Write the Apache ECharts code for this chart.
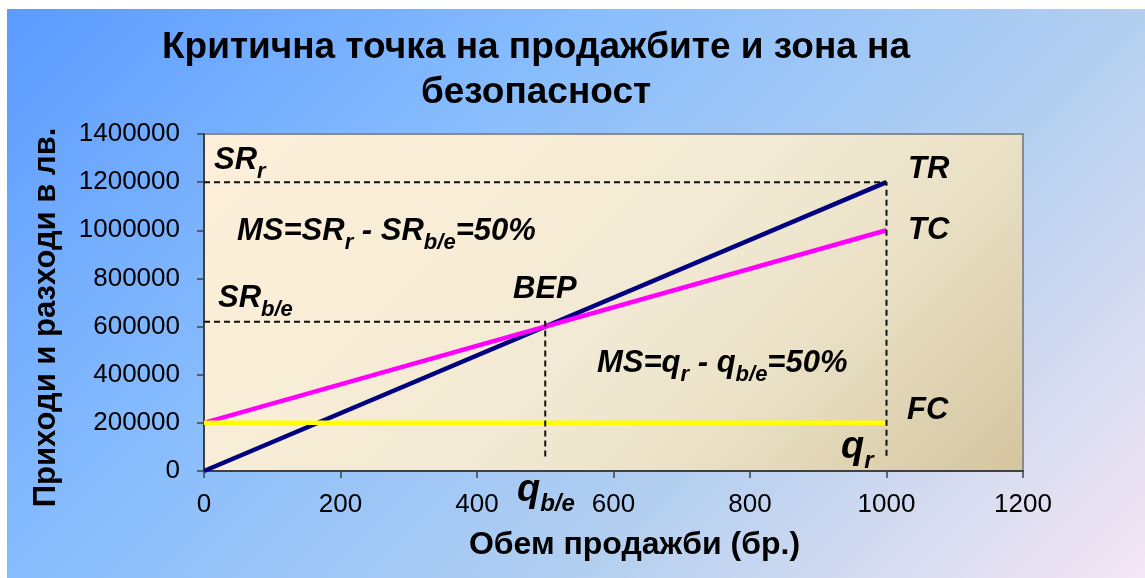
<!DOCTYPE html>
<html>
<head>
<meta charset="utf-8">
<script src="https://cdn.jsdelivr.net/npm/echarts@6/dist/echarts.min.js"></script>
<style>
  html, body { margin: 0; padding: 0; background: #ffffff; }
  #chart { width: 1145px; height: 578px; }
</style>
</head>
<body>
<div id="chart"></div>
<script>
// Break-even chart: revenue, total cost and fixed cost against sales volume
const quantity     = [0, 1000];             // units sold
const revenueTR    = [0, 1200000];          // total revenue
const totalCostTC  = [200000, 1000000];     // total cost
const fixedCostFC  = [200000, 200000];      // fixed cost

// guide lines: actual sales (q_r, SR_r) and break-even (q_b/e, SR_b/e)
const guideActualX    = [0, 1000, 1000];
const guideActualY    = [1200000, 1200000, 60000];
const guideBreakEvenX = [0, 500, 500];
const guideBreakEvenY = [620000, 620000, 60000];

const xTickValues = [0, 200, 400, 600, 800, 1000, 1200];
const yTickValues = [0, 200000, 400000, 600000, 800000, 1000000, 1200000, 1400000];

const titleText = 'Критична точка на продажбите и зона на\nбезопасност';
const xAxisTitle = 'Обем продажби (бр.)';
const yAxisTitle = 'Приходи и разходи в лв.';

const FONT = '"Liberation Sans", Arial, Helvetica, sans-serif';

const zip = (xs, ys) => xs.map((x, i) => [x, ys[i]]);
const plainNumber = v => String(v);

const chart = echarts.init(document.getElementById('chart'), null, { renderer: 'canvas' });

// rich-text styles for italic labels with subscripts
const baseTok = { fontFamily: FONT, fontWeight: 'bold', fontStyle: 'italic', fill: '#000', color: '#000' };
const richStyles = {
  m: Object.assign({}, baseTok, { fontSize: 31, lineHeight: 34, verticalAlign: 'bottom', padding: [0, 0, 7, 0] }),
  s: Object.assign({}, baseTok, { fontSize: 22, lineHeight: 23, verticalAlign: 'bottom' }),
  q: Object.assign({}, baseTok, { fontSize: 38, lineHeight: 40, verticalAlign: 'bottom', padding: [0, 0, 6, 0] }),
  qs: Object.assign({}, baseTok, { fontSize: 24, lineHeight: 26, verticalAlign: 'bottom' })
};

function note(x, baseline, text, baseOffset) {
  return {
    type: 'text',
    x: x,
    y: baseline + (baseOffset || 13),
    z: 100,
    silent: true,
    style: {
      text: text,
      rich: richStyles,
      align: 'left',
      verticalAlign: 'bottom',
      fill: '#000'
    }
  };
}

const axisCommon = {
  type: 'value',
  nameLocation: 'middle',
  axisLine: { show: true, onZero: false, lineStyle: { color: '#404040', width: 2 } },
  axisTick: { show: true, length: 7, lineStyle: { color: '#404040', width: 1.5 } },
  splitLine: { show: false }
};

const option = {
  animation: false,
  backgroundColor: {
    type: 'linear', x: 0, y: 0, x2: 861, y2: 861, global: true,
    colorStops: [
      { offset: 0,    color: '#5a9aff' },
      { offset: 0.35, color: '#88bdfd' },
      { offset: 0.67, color: '#b3cff0' },
      { offset: 0.85, color: '#d8dcf0' },
      { offset: 1,    color: '#f4e6f5' }
    ]
  },
  title: {
    text: titleText,
    left: 536,
    top: 25,
    textAlign: 'center',
    padding: 0,
    textStyle: {
      fontFamily: FONT, fontSize: 37, fontWeight: 'bold', color: '#000', lineHeight: 45
    }
  },
  grid: {
    left: 204, top: 134, right: 122, bottom: 107,
    show: true,
    borderColor: '#8a8a8a',
    borderWidth: 2,
    backgroundColor: {
      type: 'linear', x: 204, y: 134, x2: 782, y2: 712, global: true,
      colorStops: [
        { offset: 0,   color: '#fdefd9' },
        { offset: 0.3, color: '#f8edd6' },
        { offset: 0.5, color: '#f2ead5' },
        { offset: 0.7, color: '#eae1c6' },
        { offset: 1,   color: '#d4c59f' }
      ]
    }
  },
  xAxis: Object.assign({}, axisCommon, {
    min: xTickValues[0],
    max: xTickValues[xTickValues.length - 1],
    interval: xTickValues[1] - xTickValues[0],
    name: xAxisTitle,
    nameGap: 58,
    nameTextStyle: { fontFamily: FONT, fontSize: 32, fontWeight: 'bold', color: '#000', padding: [0, 0, 0, 42] },
    axisLabel: { fontFamily: FONT, fontSize: 26, color: '#000', margin: 21, formatter: plainNumber }
  }),
  yAxis: Object.assign({}, axisCommon, {
    min: yTickValues[0],
    max: yTickValues[yTickValues.length - 1],
    interval: yTickValues[1] - yTickValues[0],
    name: yAxisTitle,
    nameGap: 142,
    nameTextStyle: { fontFamily: FONT, fontSize: 31, fontWeight: 'bold', color: '#000', padding: [0, 30, 0, 0] },
    axisLabel: { fontFamily: FONT, fontSize: 26, color: '#000', margin: 24, formatter: plainNumber }
  }),
  series: [
    {
      name: 'TR', type: 'line', data: zip(quantity, revenueTR), symbol: 'none', z: 2, silent: true,
      lineStyle: { color: '#000080', width: 4.5 }
    },
    {
      name: 'TC', type: 'line', data: zip(quantity, totalCostTC), symbol: 'none', z: 3, silent: true,
      lineStyle: { color: '#ff00ff', width: 4.5 }
    },
    {
      name: 'FC', type: 'line', data: zip(quantity, fixedCostFC), symbol: 'none', z: 4, silent: true,
      lineStyle: { color: '#ffff00', width: 4.5 }
    },
    {
      name: 'SRr', type: 'line', data: zip(guideActualX, guideActualY), symbol: 'none', z: 5, silent: true,
      lineStyle: { color: '#111', width: 2, type: [6, 4] }
    },
    {
      name: 'SRbe', type: 'line', data: zip(guideBreakEvenX, guideBreakEvenY), symbol: 'none', z: 5, silent: true,
      lineStyle: { color: '#111', width: 2, type: [6, 4] }
    }
  ],
  graphic: [
    // white margin along the top and left edges
    { type: 'rect', shape: { x: 0, y: 0, width: 1145, height: 9 }, style: { fill: '#ffffff' }, z: 200, silent: true },
    { type: 'rect', shape: { x: 0, y: 0, width: 7, height: 578 }, style: { fill: '#ffffff' }, z: 200, silent: true },

    note(214, 170, '{m|SR}{s|r}'),
    note(237, 241, '{m|MS=SR}{s|r}{m| - SR}{s|b/e}{m|=50%}'),
    note(218, 308, '{m|SR}{s|b/e}'),
    note(513, 299, '{m|BEP}'),
    note(597, 373, '{m|MS=q}{s|r}{m| - q}{s|b/e}{m|=50%}'),
    note(908, 179, '{m|TR}'),
    note(908, 240, '{m|TC}'),
    note(907, 420, '{m|FC}'),
    note(841, 460, '{q|q}{qs|r}', 13),
    note(517, 503, '{q|q}{qs|b/e}', 13)
  ]
};

chart.setOption(option);
</script>
</body>
</html>
